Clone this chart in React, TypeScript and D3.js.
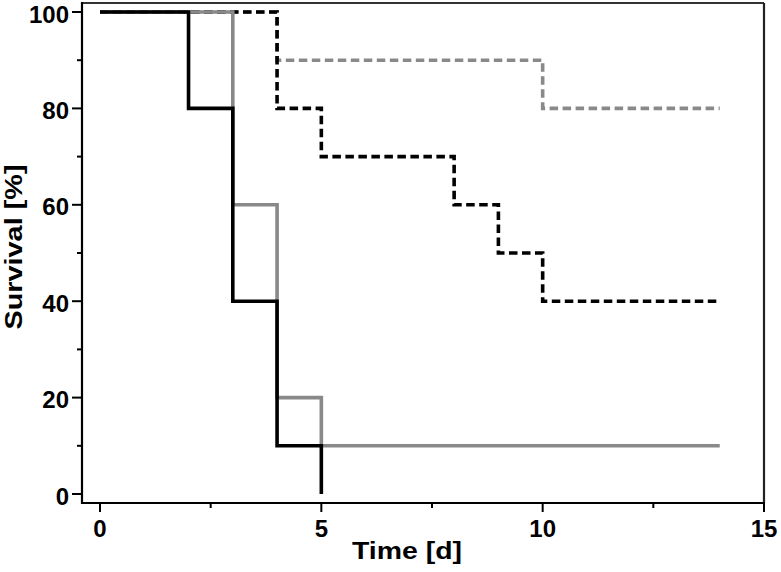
import React from "react";
import * as d3 from "d3";

const blackSolidT = [0, 2, 3, 4, 5];
const blackSolidS = [100, 80, 40, 10, 0];
const graySolidT = [0, 3, 4, 5, 14];
const graySolidS = [100, 60, 20, 10, 10];
const blackDashT = [0, 4, 5, 8, 9, 10, 14];
const blackDashS = [100, 80, 70, 60, 50, 40, 40];
const grayDashT = [0, 4, 10, 14];
const grayDashS = [100, 90, 80, 80];

const xTicks = [0, 5, 10, 15];
const xMinor = [2.5, 7.5, 12.5];
const yTicks = [0, 20, 40, 60, 80, 100];
const yMinor = [10, 30, 50, 70, 90];

export default function App() {
  const x = d3.scaleLinear().domain([0, 15]).range([100, 764]);
  const y = d3.scaleLinear().domain([0, 100]).range([494, 12]);
  const axX = 82;
  const axY = 503;
  const topY = 3;
  const rightX = 764;
  const line = d3
    .line<[number, number]>()
    .x((d) => x(d[0]))
    .y((d) => y(d[1]))
    .curve(d3.curveStepAfter);
  const zip = (t: number[], s: number[]) => t.map((v, i) => [v, s[i]] as [number, number]);
  const font = "Arial, Helvetica, 'Liberation Sans', sans-serif";
  const gray = "#898989";

  return (
    <svg width={781} height={572} style={{ position: "absolute", left: 0, top: 0, background: "#fff" }}>
      <rect x={0} y={0} width={781} height={572} fill="#fff" />
      {/* frame */}
      <line x1={axX} x2={rightX} y1={topY} y2={topY} stroke="#333" strokeWidth={2} />
      <line x1={rightX} x2={rightX} y1={topY} y2={axY} stroke="#222" strokeWidth={2.2} />
      <line x1={axX} x2={axX} y1={topY - 1} y2={axY + 1} stroke="#000" strokeWidth={2.2} />
      <line x1={axX - 1} x2={rightX + 1} y1={axY} y2={axY} stroke="#000" strokeWidth={2.2} />
      {/* y ticks */}
      {yTicks.map((t) => (
        <g key={"y" + t}>
          <line x1={axX - 10} x2={axX} y1={y(t)} y2={y(t)} stroke="#000" strokeWidth={2} />
          <text x={69} y={y(t) + 10.5} textAnchor="end" fontFamily={font} fontWeight="bold" fontSize={24}>
            {t}
          </text>
        </g>
      ))}
      {yMinor.map((t) => (
        <line key={"ym" + t} x1={axX - 5} x2={axX} y1={y(t)} y2={y(t)} stroke="#000" strokeWidth={2} />
      ))}
      {/* x ticks */}
      {xTicks.map((t) => (
        <g key={"x" + t}>
          <line x1={x(t)} x2={x(t)} y1={axY} y2={axY + 9} stroke="#000" strokeWidth={2} />
          <text x={x(t)} y={537} textAnchor="middle" fontFamily={font} fontWeight="bold" fontSize={24}>
            {t}
          </text>
        </g>
      ))}
      {xMinor.map((t) => (
        <line key={"xm" + t} x1={x(t)} x2={x(t)} y1={axY} y2={axY + 5} stroke="#000" strokeWidth={2} />
      ))}
      {/* titles */}
      <text
        x={407}
        y={559}
        textAnchor="middle"
        fontFamily={font}
        fontWeight="bold"
        fontSize={23}
        textLength={110}
        lengthAdjust="spacingAndGlyphs"
      >
        Time [d]
      </text>
      <text
        transform="translate(22,247) rotate(-90)"
        textAnchor="middle"
        fontFamily={font}
        fontWeight="bold"
        fontSize={23}
        textLength={165}
        lengthAdjust="spacingAndGlyphs"
      >
        Survival [%]
      </text>
      {/* series */}
      <path d={line(zip(grayDashT, grayDashS)) || ""} fill="none" stroke={gray} strokeWidth={3.6} strokeDasharray="8.5,4.5" />
      <path d={line(zip(blackDashT, blackDashS)) || ""} fill="none" stroke="#000" strokeWidth={3.6} strokeDasharray="8.5,4.5" />
      <path d={line(zip(graySolidT, graySolidS)) || ""} fill="none" stroke={gray} strokeWidth={3.6} />
      <path d={line(zip(blackSolidT, blackSolidS)) || ""} fill="none" stroke="#000" strokeWidth={3.6} />
    </svg>
  );
}
